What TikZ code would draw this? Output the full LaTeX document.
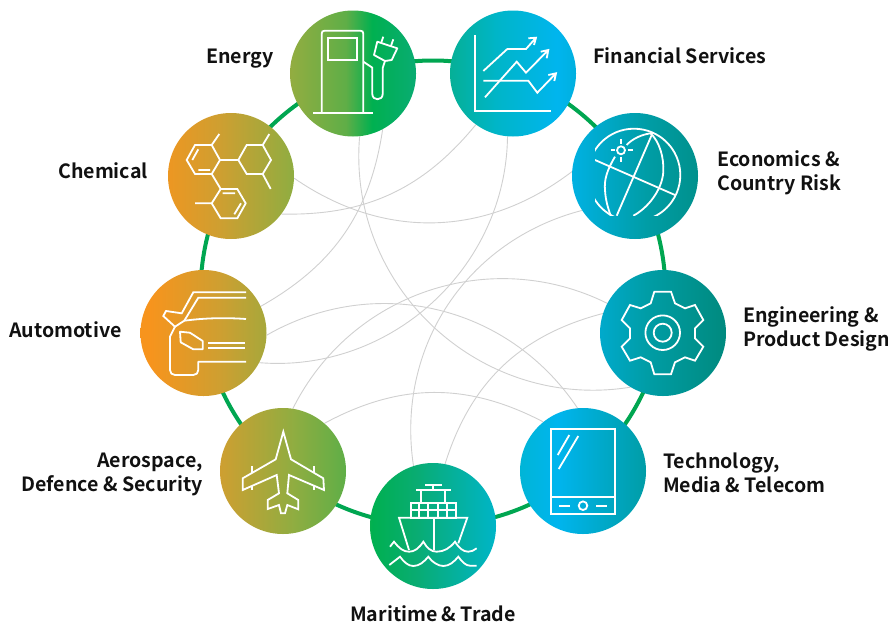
\documentclass[tikz,border=0pt]{standalone}
\usepackage{fontspec}
\setmainfont{Noto Sans}
\newfontfamily\labfont{Noto Sans CJK SC Bold}
\definecolor{ca}{HTML}{F7941D}
\definecolor{cb}{HTML}{CE9F31}
\definecolor{cc}{HTML}{8FAD41}
\definecolor{cd}{HTML}{5FAE47}
\definecolor{ce}{HTML}{00B050}
\definecolor{cf}{HTML}{09AC72}
\definecolor{cg}{HTML}{00B5C8}
\definecolor{ch}{HTML}{00B5EE}
\definecolor{ci}{HTML}{009DA6}
\definecolor{cj}{HTML}{008A7E}
\definecolor{ringgreen}{HTML}{00A651}
\definecolor{arcgrey}{HTML}{D0D0D0}
\definecolor{labelink}{HTML}{111111}
\pgfdeclarehorizontalshading{sweep}{100bp}{color(0bp)=(ca); color(25.85bp)=(ca); color(31.83bp)=(cb); color(38.14bp)=(cc); color(42.58bp)=(cd); color(44.8bp)=(ce); color(48.55bp)=(cf); color(55.4bp)=(cg); color(60.6bp)=(ch); color(68.2bp)=(ci); color(75bp)=(cj); color(100bp)=(cj)}
\tikzset{
  hub/.style={circle,minimum size=126pt,inner sep=0pt},
  ringline/.style={circle,draw=ringgreen,line width=4pt,minimum size=465pt,inner sep=0pt},
  arcline/.style={draw=arcgrey,line width=0.9pt},
  icon/.style={draw=white,line width=1.8pt},
  lab/.style={inner sep=0pt,font=\labfont\fontsize{19.6}{24}\selectfont,text=labelink,align=left},
  labone/.style={inner sep=0pt,font=\labfont\fontsize{19.6}{24}\selectfont,text=labelink},
}
\begin{document}
\begin{tikzpicture}[x=1pt,y=-1pt]
\useasboundingbox (0,0) rectangle (888,624);
% hubs
\node[hub] (energy) at (353,73.5) {};
\node[hub] (financial) at (513,73.5) {};
\node[hub] (economics) at (635,176) {};
\node[hub] (engineering) at (663,333) {};
\node[hub] (technology) at (583,471) {};
\node[hub] (maritime) at (433,526) {};
\node[hub] (aerospace) at (283,471) {};
\node[hub] (automotive) at (203.5,333) {};
\node[hub] (chemical) at (231,176) {};
% ring
\node[ringline] (ring) at (433,293) {};
% arcs
\draw[arcline] (energy.-62) to[bend left=26] (automotive.25);
\draw[arcline] (energy.-84) to[bend right=52,looseness=1.05] (engineering.-121);
\draw[arcline] (financial.-126) to[bend left=26] (chemical.-37);
\draw[arcline] (financial.-95) to[bend left=47] (automotive.-28);
\draw[arcline] (chemical.-2) to[bend right=36] (economics.176);
\draw[arcline] (economics.-147) to[bend right=42] (maritime.108);
\draw[arcline] (engineering.152) to[bend right=45] (aerospace.81);
\draw[arcline] (automotive.-2) to[bend left=43] (technology.95);
\draw[arcline] (engineering.162) to[bend right=29] (maritime.79);
\draw[arcline] (aerospace.49) to[bend left=28] (technology.129);
% gradient discs
\begin{scope}
\clip (energy.center) circle (63) (financial.center) circle (63) (economics.center) circle (63)
 (engineering.center) circle (63) (technology.center) circle (63) (maritime.center) circle (63)
 (aerospace.center) circle (63) (automotive.center) circle (63) (chemical.center) circle (63);
\shade[shading=sweep] (140,0) rectangle (726,624);
\end{scope}
% energy icon
\draw[icon] (321.7,112.7) -- (321.7,33.7) .. controls (321.7,31.7) and (322.7,30.7) .. (324.7,30.7) -- (360.3,30.7) .. controls (362.3,30.7) and (363.3,31.7) .. (363.3,33.7) -- (363.3,112.7);
\draw[icon] (313.3,112.7) -- (372.7,112.7);
\draw[icon] (328.3,37.7) rectangle (357.3,60);
\draw[icon] (363.3,61.7) -- (372.3,67.7) -- (372.3,94) .. controls (372.3,101) and (382.7,101) .. (382.7,94) -- (382.7,68) -- (385,61);
\draw[icon,line join=round] (377.3,41.7) -- (397.3,48.3) -- (391.7,60) -- (385,61) -- (374,55) -- cycle;
\draw[icon] (383.3,36.7) -- (381,43.3) (393.3,39.3) -- (390.7,46.7);
% financial icon
\draw[icon] (475,35) -- (475,110.7) -- (550.7,110.7);
\draw[icon] (483.3,71) -- (507.3,49) -- (526,49) -- (536,37.7) (528.3,38.3) -- (536,37.7) -- (534,45);
\draw[icon] (485,97.3) -- (516.7,61.7) -- (526,72.7) -- (548.3,50) (540.7,51.7) -- (548.3,50) -- (546.7,58.3);
\draw[icon] (483.3,80.7) -- (528.3,80.7) -- (537.3,92.7) -- (556,73.3) (548.3,75) -- (556,73.3) -- (554.3,81);
% chemical icon
\draw[icon] (195,145) -- (211.7,145) -- (220,160) -- (211.7,174) -- (195,174) -- (186.7,160) -- cycle;
\draw[icon] (198.3,149.3) -- (192.3,160) (198.3,170) -- (210,170) (211.7,145) -- (219.3,134) (220,160) -- (238.3,160);
\draw[icon] (238.3,160) -- (246.7,145) -- (262.7,145) -- (271,160) -- (262.7,174) -- (246.7,174) -- cycle;
\draw[icon] (262.7,145) -- (269.3,134) (262.7,174) -- (270.7,189) (211.7,174) -- (220.7,189);
\draw[icon] (220.7,189) -- (237.3,189) -- (245.7,203.3) -- (237.3,218.3) -- (220.7,218.3) -- (211.7,203.3) -- cycle;
\draw[icon] (222.7,193.3) -- (235,193.3) (241,203.3) -- (234.3,214.3) (211.7,203.3) -- (195,203.3);
% automotive icon
\draw[icon] (246,292.3) -- (193.3,292.3) -- (181.7,313.3) -- (166,311) -- (163.3,316) -- (175,326.7) -- (184.3,320.7) -- (198.3,297.7) -- (246,297.7);
\draw[icon] (184.3,320.7) .. controls (205,318) and (225,317.5) .. (246,319);
\draw[icon,line join=round] (175,326.7) -- (170,336.7) -- (170,370) .. controls (170,373) and (172,375) .. (175,375) -- (193.3,375) .. controls (196.3,375) and (198.3,373) .. (198.3,370) -- (198.3,361.7) -- (246,361.7);
\draw[icon,line join=round] (180,331.7) -- (190,332.7) -- (202.7,341) -- (202.7,349.3) -- (193.3,349.3) -- (180.7,342.3) -- cycle;
\draw[icon] (208.3,342.7) -- (245,342.7) (208.3,347.7) -- (245,347.7);
% globe icon
\begin{scope}
\clip (595,125) rectangle (690,215.7);
\draw[icon] (634,175) circle (46.3);
\draw[icon] (651.7,135) -- (616.7,215.7);
\draw[icon] (595,160) -- (675,195);
\draw[icon] (615,156.7) .. controls (607,170) and (604,180) .. (605,190) .. controls (605.5,200) and (608,208) .. (610.7,215.7);
\draw[icon] (650,132.7) .. controls (660,142) and (664,158) .. (663.3,172) .. controls (662,190) and (648,208) .. (633.3,215.7);
\draw[icon] (626.7,145) .. controls (632,139) and (642,134) .. (653,133);
\end{scope}
\draw[icon] (621,150.3) circle (4);
\draw[icon] (610.7,150.3) -- (615,150.3) (627.7,150.3) -- (632.7,150.3) (621,139.3) -- (621,144) (621,156.7) -- (621,161.7);
% gear icon
\draw[icon] (654.3,291.7) -- (671,291.7) -- (675,303.3) -- (685,308.3) -- (695,305) -- (703.3,320) -- (695,328.3) -- (695,338.3) -- (703.3,346.7) -- (695,360.7) -- (685,357.3) -- (675,362.3) -- (671,374.3) -- (654.3,374.3) -- (650.7,362.3) -- (640.7,357.3) -- (630,360.7) -- (621.7,346.7) -- (630,338.3) -- (630,328.3) -- (621.7,320) -- (630,305) -- (640.7,308.3) -- (650.7,303.3) -- cycle;
\draw[icon] (662.7,332.7) circle (17.3);
\draw[icon] (662.7,332.7) circle (9);
% tablet icon
\draw[icon] (550.7,429) rectangle (615,514);
\draw[icon] (550.7,497.3) -- (615,497.3);
\draw[icon] (583,505.7) circle (4.3);
\draw[icon] (559.3,505.7) -- (570,505.7) (596,505.7) -- (606.7,505.7);
\draw[icon] (569.3,435) -- (557.7,455) (578.3,436) -- (558.7,469);
% plane icon
\draw[icon] (283.3,431.7) -- (291,459.3) -- (323.3,478.3) -- (324,490) -- (289,475) -- (287.3,493.3) -- (298.3,500) -- (298.3,509.3) -- (287.3,505) -- (285,513.3) -- (281,513.3) -- (279,505) -- (267.7,509) -- (267.7,500) -- (279,493.3) -- (276.7,475) -- (242.7,490) -- (242.7,478.3) -- (275.7,459.3) -- cycle;
\draw[icon] (252.3,466) -- (252.3,472.7) (252.3,486) -- (252.3,490) (314,466) -- (314,472.7) (314,486) -- (314,490);
% ship icon
\draw[icon] (409,550) -- (399,517.7) -- (467.3,517.7) -- (458.3,543.3);
\draw[icon] (434,517.7) -- (434,550);
\draw[icon] (410.7,503.3) rectangle (456,517.7);
\draw[icon] (410.7,510) -- (456,510) (419.3,503.3) -- (419.3,517.7) (428.3,503.3) -- (428.3,517.7) (437.7,503.3) -- (437.7,517.7) (446.7,503.3) -- (446.7,517.7);
\draw[icon] (420.7,490) -- (420.7,503.3) (445.3,490) -- (445.3,503.3);
\draw[icon,line width=2.4pt] (416,490) -- (450.7,490);
\draw[icon] (425,485.3) -- (441.7,485.3) (433.3,485.3) -- (433.3,490);
\draw[icon] (390,546.7) -- (394,541.7) .. controls (399,548) and (403,551.7) .. (409,551.7) .. controls (415,551.7) and (419,548) .. (423.3,541.7) .. controls (427,548) and (431,551.7) .. (436.7,551.7) .. controls (444,551.7) and (450,548) .. (455,541.7) .. controls (459,548) and (463,551.7) .. (468.3,551.7) .. controls (471,551.7) and (474,550.5) .. (476.7,548.3);
\draw[icon] (389.3,565) -- (400,556.7) .. controls (404,562) and (408,566) .. (413.3,566) .. controls (419,566) and (424,562) .. (428.3,556.7) .. controls (432,562) and (438,566) .. (443.3,566) .. controls (449,566) and (454,562) .. (458.3,556.7) .. controls (462,562) and (466,565.7) .. (470,565.7) -- (476.7,565.7);
% labels
\node[labone,anchor=base east] (lenergy) at (274,63) {Energy};
\node[labone,anchor=base west] (lfinancial) at (593,63) {Financial Services};
\node[labone,anchor=base east] (lchemical) at (148,178) {Chemical};
\node[lab,anchor=west] (leconomics) at (717,173) {Economics \&\\Country Risk};
\node[labone,anchor=base west] (lautomotive) at (9,337) {Automotive};
\node[lab,anchor=west] (lengineering) at (743,329) {Engineering \&\\Product Design};
\node[lab,anchor=west] (ltechnology) at (663,473) {Technology,\\Media \& Telecom};
\node[lab,anchor=east,align=right] (laerospace) at (203,474) {Aerospace,\\Defence \& Security};
\node[labone,anchor=base] (lmaritime) at (433,621) {Maritime \& Trade};
\end{tikzpicture}
\end{document}
